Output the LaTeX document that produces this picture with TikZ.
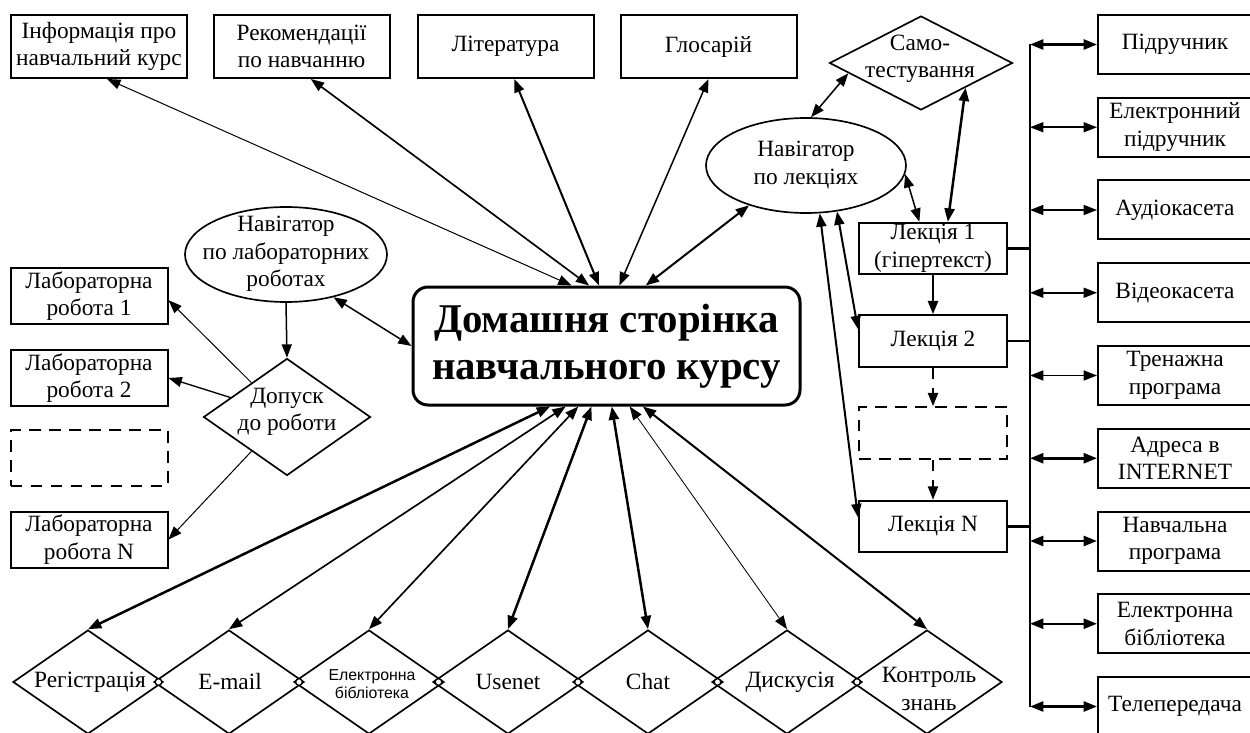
\documentclass[tikz,border=0pt]{standalone}
\usepackage{fontspec}
\setmainfont{Liberation Serif}
\newfontfamily\narrowsans{Liberation Sans}
\usetikzlibrary{arrows.meta,shapes.geometric}

\tikzset{every picture/.style={line width=0.75pt}}
\tikzset{
  txt/.style={font=\fontsize{14}{16.5}\selectfont, align=center, inner sep=0pt},
  topbox/.style={txt, draw, line width=1.2pt, minimum width=105.6pt, minimum height=37.8pt},
  sidebox/.style={topbox, minimum width=92.4pt, minimum height=35.4pt},
  lecbox/.style={topbox, minimum width=88.8pt, minimum height=30.9pt},
  labbox/.style={topbox, minimum width=94.2pt, minimum height=33.6pt},
  gapbox/.style={draw, line width=1.2pt, dash pattern=on 7pt off 5pt, inner sep=0pt},
  homebox/.style={draw, line width=1.8pt, rounded corners=9pt, inner sep=0pt, align=center,
    minimum width=232.2pt, minimum height=70.8pt, font=\fontsize{24.5}{28}\selectfont\bfseries},
  navshape/.style={ellipse, draw, line width=1pt, inner sep=0pt, minimum height=57pt},
  decision/.style={diamond, draw, line width=1pt, inner sep=0pt},
  service/.style={decision, minimum width=90pt, minimum height=62.4pt},
  junction/.style={circle, draw, fill=white, line width=0.8pt, minimum size=4pt, inner sep=0pt},
  link/.style={<->, line width=0.9pt},
}

\begin{document}
\begin{tikzpicture}[x=0.6pt,y=0.6pt,yscale=-1,xscale=1,>={Triangle[length=8pt,width=6pt]}]
\useasboundingbox (0,0) rectangle (1250,733);

%Shape: Rectangle (top row)
\node[topbox] (info) at (99,46.5) {Інформація про\\навчальний курс};
\node[topbox] (advice) at (301.5,46.5) {Рекомендації\\по навчанню};
\node[topbox] (books) at (505.5,46.5) {Література};
\node[topbox] (gloss) at (708.5,46.5) {Глосарій};

%Shape: Rounded Rectangle
\node[homebox] (home) at (606.5,346) {Домашня сторінка\\навчального курсу};

%Shape: Ellipse
\node[navshape, minimum width=120pt] (navlec) at (806,165.5) {};
\node[txt] (navlec-t) at (806,165) {Навігатор\\по лекціях};
\node[navshape, minimum width=121.2pt] (navlab) at (286,254.5) {};
\node[txt] (navlab-t) at (286,254) {Навігатор\\по лабораторних\\роботах};

%Shape: Diamond
\node[decision, minimum width=109.8pt, minimum height=56.4pt] (selftest) at (921,63) {};
\node[txt] (selftest-t) at (920,59) {Само-\\тестування};
\node[decision, minimum width=100.2pt, minimum height=70.2pt] (admit) at (287,417) {};
\node[txt] (admit-t) at (287,412) {Допуск\\до роботи};

%Shape: Rectangle (lectures)
\node[lecbox] (lec1) at (933,248.5) {Лекція 1\\(гіпертекст)};
\node[lecbox] (lec2) at (933,341) {Лекція 2};
\node[gapbox, minimum width=88.8pt, minimum height=30.9pt] (lecgap) at (933,433) {};
\node[lecbox] (lecN) at (933,526.5) {Лекція N};

%Shape: Rectangle (labs)
\node[labbox] (lab1) at (89,296) {Лабораторна\\робота 1};
\node[labbox] (lab2) at (89,378) {Лабораторна\\робота 2};
\node[gapbox, minimum width=94.2pt, minimum height=33.6pt] (labgap) at (89,458) {};
\node[labbox] (labN) at (89,539.5) {Лабораторна\\робота N};

%Shape: Rectangle (resources)
\node[sidebox] (res1) at (1175,44.5) {Підручник};
\node[sidebox] (res2) at (1175,127.25) {Електронний\\підручник};
\node[sidebox] (res3) at (1175,210) {Аудіокасета};
\node[sidebox] (res4) at (1175,292.75) {Відеокасета};
\node[sidebox] (res5) at (1175,375.5) {Тренажна\\програма};
\node[sidebox] (res6) at (1175,458.25) {Адреса в\\INTERNET};
\node[sidebox] (res7) at (1175,541) {Навчальна\\програма};
\node[sidebox] (res8) at (1175,623.75) {Електронна\\бібліотека};
\node[sidebox] (res9) at (1175,706.5) {Телепередача};

%Shape: Diamond (services)
\node[service] (reg) at (88,682) {};
\node[service] (mail) at (229,682) {};
\node[service] (elib) at (369,682) {};
\node[service] (usenet) at (508,682) {};
\node[service] (chat) at (648,682) {};
\node[service] (forum) at (787,682) {};
\node[service] (exam) at (927,682) {};
\node[txt] (reg-t) at (90,682) {Регістрація};
\node[txt] (mail-t) at (230,682) {E-mail};
\node[txt, font=\narrowsans\fontsize{9.5}{11}\selectfont] (elib-t) at (372,684) {Електронна\\бібліотека};
\node[txt] (usenet-t) at (508,682) {Usenet};
\node[txt] (chat-t) at (648,682) {Chat};
\node[txt] (forum-t) at (790,682) {Дискусія};
\node[txt] (exam-t) at (929,689) {Контроль\\знань};
\node[junction] (j1) at (158.5,682) {};
\node[junction] (j2) at (299,682) {};
\node[junction] (j3) at (438.5,682) {};
\node[junction] (j4) at (578,682) {};
\node[junction] (j5) at (717.5,682) {};
\node[junction] (j6) at (857,682) {};

%Straight Lines (home to top row)
\draw[link, line width=0.6pt] (info.284) -- (home.120);
\draw[link, line width=1pt] (advice.286) -- (home.106);
\draw[link, line width=1.2pt] (books.285) -- (home.97);
\draw[link] (gloss.south) -- (home.78);
\draw[link, line width=1.2pt] (navlec.215) -- (home.57);

%Straight Lines (home to services)
\draw[link, line width=1.5pt] (home.227.5) -- (reg.north);
\draw[link, line width=1pt] (home.236) -- (mail.north);
\draw[link, line width=1pt] (home.245.5) -- (elib.north);
\draw[link, line width=1.5pt] (home.256.7) -- (usenet.north);
\draw[link, line width=1.5pt] (home.275.8) -- (chat.north);
\draw[link, line width=0.5pt] (home.291.3) -- (forum.north);
\draw[link, line width=1.2pt] (home.301.4) -- (exam.north);

%Straight Lines (labs)
\draw[link] (navlab.318) -- (home.west);
\draw[->, line width=0.9pt] (navlab.south) -- (admit.north);
\draw[->, line width=0.6pt] (admit.136) -- (lab1.357);
\draw[->, line width=0.8pt] (admit.161) -- (lab2.east);
\draw[->, line width=0.6pt] (admit.224) -- (labN.east);

%Straight Lines (lectures)
\draw[link] (navlec.84) -- (selftest.188);
\draw[link, line width=1.5pt] (selftest.331) -- (lec1.61);
\draw[link] (navlec.355) -- (lec1.117);
\draw[link, line width=1.2pt] (navlec.304) -- (lec2.171);
\draw[link, line width=1.2pt] (navlec.286) -- (lecN.173);
\draw[->, line width=1.5pt] (lec1) -- (lec2);
\draw[->, line width=1.2pt, dash pattern=on 7pt off 5pt] (lec2) -- (lecgap);
\draw[->, line width=1.2pt, dash pattern=on 7pt off 5pt] (lecgap) -- (lecN);

%Straight Lines (resource bus)
\coordinate (bustop) at (1030,44.5);
\coordinate (busbot) at (1030,706.5);
\draw[line width=1pt] (bustop) -- (busbot);
\draw[line width=1.5pt] (lec1.east) -- (lec1.east -| bustop);
\draw[line width=0.8pt] (lec2.east) -- (lec2.east -| bustop);
\draw[line width=1.5pt] (lecN.east) -- (lecN.east -| bustop);
\draw[link, line width=1.5pt] (bustop) -- (res1.west);
\draw[link] (res2.west -| bustop) -- (res2.west);
\draw[link] (res3.west -| bustop) -- (res3.west);
\draw[link] (res4.west -| bustop) -- (res4.west);
\draw[link] (res5.west -| bustop) -- (res5.west);
\draw[link, line width=1.5pt] (res6.west -| bustop) -- (res6.west);
\draw[link, line width=1.5pt] (res7.west -| bustop) -- (res7.west);
\draw[link, line width=1.5pt] (res8.west -| bustop) -- (res8.west);
\draw[link, line width=1.5pt] (busbot) -- (res9.west);

\end{tikzpicture}
\end{document}
